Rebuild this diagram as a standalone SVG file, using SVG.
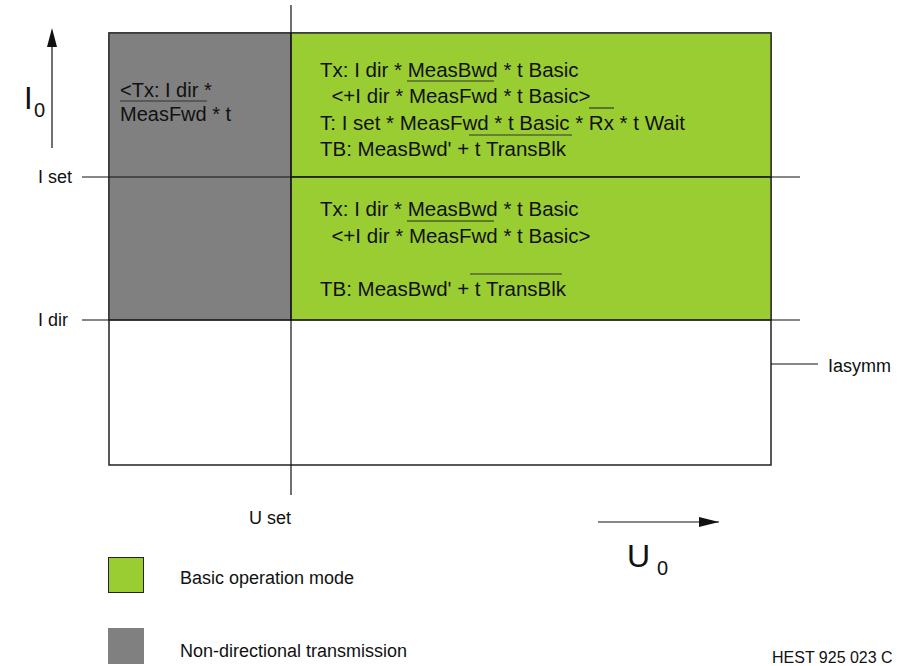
<svg xmlns="http://www.w3.org/2000/svg" width="898" height="666" viewBox="0 0 898 666">
<style>
text{font-family:"Liberation Sans",Arial,sans-serif;fill:#111}
.t{font-size:20.5px}
.g{font-size:20px}
.s{font-size:18px}
.l{stroke:#111;stroke-width:1.2;fill:none}
.m{stroke:#333;stroke-width:1.2}
</style>
<defs>
<marker id="av" markerWidth="20" markerHeight="10" refX="20" refY="5" orient="auto" markerUnits="userSpaceOnUse">
<path d="M0,0 L20,5 L0,10 Z" fill="#111"/>
</marker>
</defs>
<rect width="898" height="666" fill="#fff"/>
<g id="frame">
<rect x="109" y="33" width="662" height="432" fill="#fff" stroke="#222" stroke-width="1.5"/>
</g>
<g id="nondirectional">
<rect x="109" y="33" width="182" height="287" fill="#808080" stroke="#333" stroke-width="1.5"/>
<text class="g" x="120" y="97">&lt;Tx: I dir *</text>
<line class="m" x1="120" y1="101" x2="207" y2="101"/>
<text class="g" x="120" y="121">MeasFwd * t</text>
</g>
<g id="basic-upper">
<rect x="291" y="33" width="480" height="144" fill="#9ACD32" stroke="#333" stroke-width="1.5"/>
<text class="t" x="320" y="77">Tx: I dir * MeasBwd * t Basic</text>
<line class="m" x1="407" y1="81" x2="494" y2="81"/>
<text class="t" x="320" y="103" xml:space="preserve">  &lt;+I dir * MeasFwd * t Basic&gt;</text>
<line class="m" x1="589" y1="108" x2="614" y2="108"/>
<text class="t" x="320" y="130">T: I set * MeasFwd * t Basic * Rx * t Wait</text>
<line class="m" x1="469" y1="135" x2="572" y2="135"/>
<text class="t" x="320" y="156">TB: MeasBwd' + t TransBlk</text>
</g>
<g id="basic-lower">
<rect x="291" y="177" width="480" height="143" fill="#9ACD32" stroke="#333" stroke-width="1.5"/>
<text class="t" x="320" y="216">Tx: I dir * MeasBwd * t Basic</text>
<line x1="407" y1="221" x2="494" y2="221" stroke="#4a5e20" stroke-width="1.5"/>
<text class="t" x="320" y="243" xml:space="preserve">  &lt;+I dir * MeasFwd * t Basic&gt;</text>
<line class="m" x1="470" y1="274" x2="562" y2="274"/>
<text class="t" x="320" y="296">TB: MeasBwd' + t TransBlk</text>
</g>
<g id="connectors">
<line class="l" x1="291" y1="5" x2="291" y2="495"/>
<line class="l" x1="82" y1="177" x2="800" y2="177"/>
<line class="l" x1="82" y1="320" x2="800" y2="320"/>
<line class="l" x1="771" y1="364" x2="818" y2="364"/>
<line class="l" x1="52" y1="148" x2="52" y2="46"/>
<path d="M52,28 L57,47 L47,47 Z" fill="#111"/>
<line class="l" x1="598" y1="522" x2="719" y2="522" marker-end="url(#av)"/>
</g>
<g id="labels">
<text x="24" y="109" style="font-size:31px">I</text>
<text x="34" y="117" style="font-size:20px">0</text>
<text class="s" x="38" y="183">I set</text>
<text class="s" x="38" y="326">I dir</text>
<text class="s" x="828" y="372">Iasymm</text>
<text class="s" x="249" y="524">U set</text>
<text x="627" y="567" style="font-size:32px">U</text>
<text x="657" y="575" style="font-size:20px">0</text>
</g>
<g id="legend">
<rect x="108.5" y="557.5" width="35" height="35" fill="#9ACD32" stroke="#222" stroke-width="1"/>
<text class="s" x="180" y="584">Basic operation mode</text>
<rect x="108" y="628" width="36" height="36" fill="#808080"/>
<text class="s" x="180" y="657">Non-directional transmission</text>
<text x="772" y="663" style="font-size:16px">HEST 925 023 C</text>
</g>
</svg>
